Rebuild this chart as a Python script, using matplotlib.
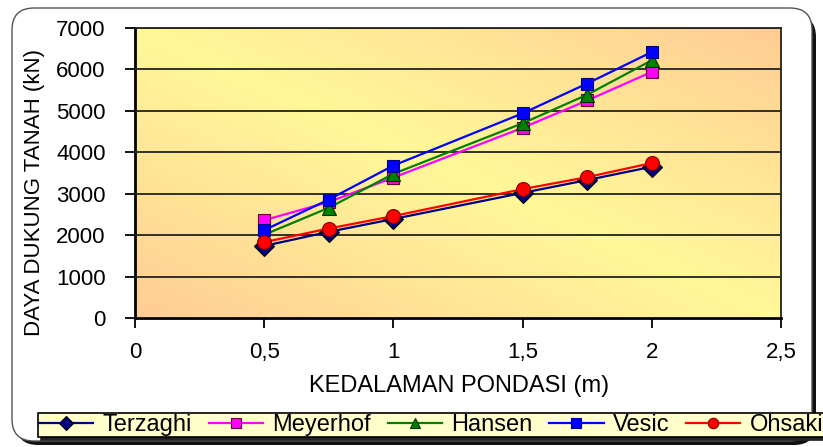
import numpy as np
import matplotlib
matplotlib.use("Agg")
import matplotlib.pyplot as plt
from matplotlib.patches import FancyBboxPatch
from matplotlib.transforms import IdentityTransform

plt.rcParams['font.family'] = ['Liberation Sans', 'DejaVu Sans']

# kedalaman pondasi (m) dan daya dukung tanah (kN)
depth = [0.5, 0.75, 1.0, 1.5, 1.75, 2.0]
terzaghi = [1740, 2080, 2390, 3020, 3330, 3650]
meyerhof = [2360, 2800, 3390, 4590, 5250, 5940]
hansen = [2010, 2660, 3480, 4700, 5390, 6220]
vesic = [2120, 2860, 3680, 4940, 5660, 6420]
ohsaki = [1830, 2160, 2460, 3110, 3400, 3740]

xticks = [0, 0.5, 1, 1.5, 2, 2.5]
xtick_labels = ['0', '0,5', '1', '1,5', '2', '2,5']
yticks = [0, 1000, 2000, 3000, 4000, 5000, 6000, 7000]

W, H = 823, 447
fig = plt.figure(figsize=(W / 100, H / 100), dpi=100)
fig.patch.set_facecolor('white')

# rounded chart frame with a dark shadow
shadow = FancyBboxPatch((16, 2), 800, 430, boxstyle='round,pad=0,rounding_size=22',
                        transform=IdentityTransform(), facecolor='#111111',
                        edgecolor='none', zorder=-3)
frame = FancyBboxPatch((12, 6), 800, 433, boxstyle='round,pad=0,rounding_size=22',
                       transform=IdentityTransform(), facecolor='white',
                       edgecolor='#555555', linewidth=1.0, zorder=-2)
fig.patches.extend([shadow, frame])

ax = fig.add_axes([135 / W, 129 / H, 646 / W, 290 / H])
ax.set_facecolor('none')

# diagonal tan -> light yellow gradient behind the plot
gx, gy = np.meshgrid(np.linspace(0, 1, 300), np.linspace(0, 1, 300))
t = np.clip(np.abs(gx + gy - 1.0), 0, 1) ** 1.1
yellow = np.array([1.0, 0.97, 0.60])
tan = np.array([1.0, 0.80, 0.58])
grad = yellow[None, None, :] * (1 - t[..., None]) + tan[None, None, :] * t[..., None]
ax.imshow(grad, extent=(0, 1, 0, 1), transform=ax.transAxes, origin='lower',
          aspect='auto', zorder=0, interpolation='bilinear')

ax.plot(depth, terzaghi, color='#000080', lw=1.6, marker='D', ms=10,
        mfc='#000080', mec='#000000', mew=0.8, label='Terzaghi', zorder=3)
ax.plot(depth, meyerhof, color='#FF00FF', lw=1.6, marker='s', ms=9,
        mfc='#FF00FF', mec='#660033', mew=0.8, label='Meyerhof', zorder=3)
ax.plot(depth, hansen, color='#008000', lw=1.6, marker='^', ms=10,
        mfc='#008000', mec='#003300', mew=0.8, label='Hansen', zorder=3)
ax.plot(depth, vesic, color='#0000FF', lw=1.6, marker='s', ms=9,
        mfc='#0000FF', mec='#000080', mew=0.8, label='Vesic', zorder=3)
ax.plot(depth, ohsaki, color='#FF0000', lw=1.6, marker='o', ms=10,
        mfc='#FF0000', mec='#800000', mew=0.8, label='Ohsaki', zorder=4)

ax.set_xlim(0, 2.5)
ax.set_ylim(0, 7000)
ax.set_xticks(xticks)
ax.set_xticklabels(xtick_labels)
ax.set_yticks(yticks)
ax.yaxis.grid(True, color='#222222', linewidth=1.3)
ax.set_axisbelow(False)
for gl in ax.get_ygridlines():
    gl.set_zorder(1)

for side in ['left', 'bottom']:
    ax.spines[side].set_linewidth(2.0)
for side in ['top', 'right']:
    ax.spines[side].set_linewidth(1.3)
    ax.spines[side].set_color('#222222')
ax.tick_params(axis='both', direction='out', length=7, width=1.3,
               labelsize=16, colors='black')
ax.tick_params(axis='y', pad=14)
ax.tick_params(axis='x', pad=10)

fig.text(459 / W, (H - 386) / H, 'KEDALAMAN PONDASI (m)', ha='center',
         va='center', fontsize=17)
fig.text(35 / W, (H - 192) / H, 'DAYA DUKUNG TANAH (kN)', ha='center',
         va='center', rotation=90, fontsize=16)

leg = fig.legend(loc='lower left', bbox_to_anchor=(38 / W, 10 / H),
                 bbox_transform=fig.transFigure, ncol=5, fontsize=17,
                 frameon=True, fancybox=False, borderpad=0.05,
                 handlelength=2.3, handletextpad=0.4, columnspacing=0.7,
                 borderaxespad=0, markerscale=0.75,
                 shadow={'color': '#222222', 'alpha': 1})
leg.get_frame().set_facecolor('#FFFFCC')
leg.get_frame().set_edgecolor('black')
leg.get_frame().set_linewidth(1.2)
leg.get_frame().set_alpha(1)

fig.savefig('out.png', dpi=100)
